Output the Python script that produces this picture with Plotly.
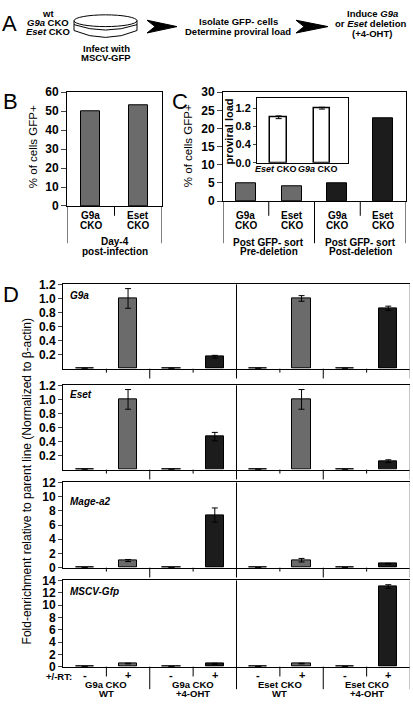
import plotly.graph_objects as go

W, H = 413, 706
FONT = "Liberation Sans, Arial, Helvetica, sans-serif"
GRAY = "#6b6b6b"
DARK = "#1c1c1c"

# ---------------- data ----------------
# Panel B
b_categories = ["G9a", "Eset"]
b_values = [50, 53]
b_group = ["Day-4", "post-infection"]
b_yticks = [0, 10, 20, 30, 40, 50, 60]

# Panel C
c_categories = ["G9a", "Eset", "G9a", "Eset"]
c_values = [5, 4, 5, 22.7]
c_colors = [GRAY, GRAY, DARK, DARK]
c_groups = [["Post GFP- sort", "Pre-deletion"], ["Post GFP- sort", "Post-deletion"]]
c_yticks = [0, 5, 10, 15, 20, 25, 30]
inset_categories = ["<i>Eset</i> CKO", "<i>G9a</i> CKO"]
inset_values = [1.0, 1.2]
inset_errors = [0.03, 0.02]
inset_yticks = [0.0, 0.4, 0.8, 1.2]

# Panel D
d_rt_labels = ["-", "+", "-", "+", "-", "+", "-", "+"]
d_groups = [["G9a CKO", "WT"], ["G9a CKO", "+4-OHT"], ["Eset CKO", "WT"], ["Eset CKO", "+4-OHT"]]
d_colors = [GRAY, GRAY, DARK, DARK, GRAY, GRAY, DARK, DARK]
d_genes = ["G9a", "Eset", "Mage-a2", "MSCV-Gfp"]
g9a_values = [0.005, 1.0, 0.005, 0.17, 0.005, 1.0, 0.005, 0.86]
g9a_errors = [0, 0.14, 0, 0.02, 0, 0.04, 0, 0.03]
eset_values = [0.005, 1.0, 0.005, 0.47, 0.005, 1.0, 0.005, 0.12]
eset_errors = [0, 0.14, 0, 0.06, 0, 0.14, 0, 0.02]
mage_values = [0.02, 1.0, 0.02, 7.4, 0.02, 1.05, 0.02, 0.55]
mage_errors = [0, 0.15, 0, 1.0, 0, 0.25, 0, 0.05]
mscv_values = [0.03, 0.5, 0.03, 0.45, 0.03, 0.5, 0.03, 13.0]
mscv_errors = [0, 0.05, 0, 0.1, 0, 0.05, 0, 0.3]
d_yticks = [
    [0.2, 0.4, 0.6, 0.8, 1.0, 1.2],
    [0.2, 0.4, 0.6, 0.8, 1.0, 1.2],
    [0, 2, 4, 6, 8, 10, 12],
    [0, 2, 4, 6, 8, 10, 12, 14],
]
d_yranges = [[0, 1.2], [0, 1.2], [0, 12], [0, 14]]


# ---------------- helpers ----------------
def PX(x):
    return x / W


def PY(y):
    return 1 - y / H


def dom_x(a, b):
    return [PX(a), PX(b)]


def dom_y(top, bottom):
    return [PY(bottom), PY(top)]


annotations = []
shapes = []


def ann(text, x, y, size=10, bold=True, xanchor="center", yanchor="middle",
        xref="paper", angle=0, color="black"):
    t = f"<b>{text}</b>" if bold else text
    annotations.append(dict(
        text=t, x=(PX(x) if xref == "paper" else x), y=PY(y), xref=xref, yref="paper",
        xanchor=xanchor, yanchor=yanchor, showarrow=False, textangle=angle,
        borderpad=0,
        font=dict(family=FONT, size=size, color=color)))


def pline(x0, y0, x1, y1, color="black", width=1):
    shapes.append(dict(type="line", xref="paper", yref="paper",
                       x0=PX(x0), y0=PY(y0), x1=PX(x1), y1=PY(y1),
                       line=dict(color=color, width=width)))


def ppath(points, close=True, fill=None, width=1):
    s = ""
    for i, p in enumerate(points):
        if p[0] == "Q":
            s += f" Q{PX(p[1])},{PY(p[2])} {PX(p[3])},{PY(p[4])}"
        else:
            s += (" M" if i == 0 else " L") + f"{PX(p[0])},{PY(p[1])}"
    if close:
        s += " Z"
    shapes.append(dict(type="path", xref="paper", yref="paper", path=s.strip(),
                       fillcolor=fill if fill else "rgba(0,0,0,0)",
                       line=dict(color="black", width=width)))


def axline(xref, yref_dom, x, y0, y1, color="black", width=1):
    shapes.append(dict(type="line", xref=xref, yref=yref_dom, x0=x, x1=x, y0=y0, y1=y1,
                       line=dict(color=color, width=width)))


fig = go.Figure()

# ---------------- Panel A ----------------
ann("A", 1, 17, size=22, bold=False, xanchor="left")
ann("wt", 48, 7, size=9.5)
ann("<i>G9a</i> CKO", 48, 16, size=9.5)
ann("<i>Eset</i> CKO", 48, 25, size=9.5)
# dish
shapes.append(dict(type="circle", xref="paper", yref="paper",
                   x0=PX(74), x1=PX(137), y0=PY(20), y1=PY(8),
                   line=dict(color="black", width=1)))
pline(74, 14, 74, 24)
pline(137, 14, 137, 24)
ppath([(74, 18), ("Q", 105.5, 29, 137, 18)], close=False)
ppath([(74, 24), ("Q", 105.5, 38, 137, 24)], close=False)
ann("Infect with", 106, 42, size=9.5)
ann("MSCV-GFP", 106, 52, size=9.5)
# arrows
ppath([(147, 13.5), (177, 20), (147, 26.5), (155, 20)], fill="black")
ppath([(296, 13.5), (328, 20), (296, 26.5), (304, 20)], fill="black")
ann("Isolate GFP- cells", 238, 15, size=9.5)
ann("Determine proviral load", 238, 24.5, size=9.5)
ann("Induce <i>G9a</i>", 372, 7, size=9.5)
ann("or <i>Eset</i> deletion", 370, 17, size=9.5)
ann("(+4-OHT)", 372, 27, size=9.5)

# ---------------- Panel B ----------------
fig.add_trace(go.Bar(x=list(range(len(b_values))), y=b_values, width=0.4,
                     marker=dict(color=GRAY, line=dict(color="black", width=1)),
                     xaxis="x", yaxis="y", showlegend=False))
ann("B", 2, 96, size=22, bold=False, xanchor="left")
ann("% of cells GFP+", 33, 143, size=11.5, bold=False, angle=-90)
for i, c in enumerate(b_categories):
    ann(c, i, 213, size=10, xref="x")
    ann("CKO", i, 222.5, size=10, xref="x")
ann(b_group[0], 0.5, 239.5, size=10, xref="x")
ann(b_group[1], 0.5, 249.5, size=10, xref="x")
B_H = 203 - 87
axline("x", "y domain", -0.5, 0, -38 / B_H)
axline("x", "y domain", 1.5, 0, -38 / B_H)
axline("x", "y domain", 0.5, 0, -10 / B_H)

# ---------------- Panel C ----------------
fig.add_trace(go.Bar(x=list(range(len(c_values))), y=c_values, width=0.44,
                     marker=dict(color=c_colors, line=dict(color="black", width=1)),
                     xaxis="x2", yaxis="y2", showlegend=False))
ann("C", 171, 96, size=22, bold=False, xanchor="left")
ann("% of cells GFP+", 188, 142, size=11.5, bold=False, angle=-90)
C_TOP, C_BOT = 87, 198
C_H = C_BOT - C_TOP
for i, c in enumerate(c_categories):
    ann(c, i, 212.5, size=10, xref="x2")
    ann("CKO", i, 222.5, size=10, xref="x2")
for g, grp in enumerate(c_groups):
    ann(grp[0], 0.5 + 2 * g, 240, size=10, xref="x2")
    ann(grp[1], 0.5 + 2 * g, 249.5, size=10, xref="x2")
for xv in [-0.5, 1.5, 3.5]:
    axline("x2", "y2 domain", xv, 0, -(241 - C_BOT) / C_H)
for xv in [0.5, 2.5]:
    axline("x2", "y2 domain", xv, 0, -(213 - C_BOT) / C_H)

# inset
fig.add_trace(go.Bar(x=list(range(len(inset_values))), y=inset_values, width=0.39,
                     marker=dict(color="white", line=dict(color="black", width=1.5)),
                     error_y=dict(type="data", array=inset_errors, color="black",
                                  thickness=1, width=3),
                     xaxis="x3", yaxis="y3", showlegend=False))
inset_label_x = [-0.07, 0.9]
for i, c in enumerate(inset_categories):
    ann(c, inset_label_x[i], 165.5, size=9, xref="x3")
ann("proviral load", 229, 127, size=11, bold=True, angle=-90)

# ---------------- Panel D ----------------
d_values = [g9a_values, eset_values, mage_values, mscv_values]
d_errors = [g9a_errors, eset_errors, mage_errors, mscv_errors]
d_doms = [(283, 369), (386, 472), (485, 572), (585, 673)]
gene_label_y = [294.5, 395, 505, 596.5]
for k in range(4):
    xa = f"x{k + 4}"
    ya = f"y{k + 4}"
    fig.add_trace(go.Bar(x=list(range(8)), y=d_values[k], width=0.42,
                         marker=dict(color=d_colors, line=dict(color="black", width=1)),
                         error_y=dict(type="data", array=d_errors[k], color="black",
                                      thickness=1, width=3),
                         xaxis=xa, yaxis=ya, showlegend=False))
    top, bot = d_doms[k]
    hh = bot - top
    ann(f"<i>{d_genes[k]}</i>", 69, gene_label_y[k], size=10, xanchor="left")
    last = (k == 3)
    small = 10 if last else 4
    big = 23 if last else 10
    axline(xa, f"{ya} domain", 3.5, -big / hh, 1)
    axline(xa, f"{ya} domain", 7.5, -big / hh, 1, color="#8a8a8a")
    for xv in [1.5, 5.5]:
        axline(xa, f"{ya} domain", xv, 0, -big / hh)
    for xv in [0.5, 2.5, 4.5, 6.5]:
        axline(xa, f"{ya} domain", xv, 0, -small / hh)

ann("D", 2, 293, size=22, bold=False, xanchor="left")
ann("Fold-enrichment relative to parent line (Normalized to β-actin)", 27, 484,
    size=12, bold=False, angle=-90)
ann("+/-RT:", 73, 683, size=9.5, xanchor="right")
for i, t in enumerate(d_rt_labels):
    ann(t, i, 682, size=11, xref="x7")
for g, grp in enumerate(d_groups):
    ann(grp[0], 0.5 + 2 * g, 691.5, size=9.5, xref="x7")
    ann(grp[1], 0.5 + 2 * g, 700.5, size=9.5, xref="x7")

# ---------------- layout ----------------
tickfont = dict(family=FONT, size=12, color="black", weight="bold")
boxed = dict(showline=True, linecolor="black", linewidth=1, mirror=True,
             showgrid=False, zeroline=False)

layout = dict(
    width=W, height=H, margin=dict(l=0, r=0, t=0, b=0),
    paper_bgcolor="white", plot_bgcolor="white",
    font=dict(family=FONT, color="black"),
    bargap=0, showlegend=False,
    xaxis=dict(domain=dom_x(67, 162), range=[-0.5, 1.5], showticklabels=False,
               ticks="", anchor="y", **boxed),
    yaxis=dict(domain=dom_y(87, 203), range=[0, 60], tickvals=b_yticks,
               ticks="outside", ticklen=5, tickfont=tickfont, anchor="x", **boxed),
    xaxis2=dict(domain=dom_x(223, 406), range=[-0.5, 3.5], showticklabels=False,
                ticks="", anchor="y2", **boxed),
    yaxis2=dict(domain=dom_y(C_TOP, C_BOT), range=[0, 30], tickvals=c_yticks,
                ticks="outside", ticklen=5, tickfont=tickfont, anchor="x2", **boxed),
    xaxis3=dict(domain=dom_x(257, 348), range=[-0.5, 1.6], showticklabels=False,
                ticks="", anchor="y3", **boxed),
    yaxis3=dict(domain=dom_y(93, 159), range=[0, 1.42], tickvals=inset_yticks,
                tickformat=".1f", ticks="outside", ticklen=3,
                tickfont=dict(family=FONT, size=11, color="black", weight="bold"),
                anchor="x3", **boxed),
    shapes=shapes, annotations=annotations,
)

for k in range(4):
    n = k + 4
    top, bot = d_doms[k]
    xa = dict(domain=dom_x(63, 410), range=[-0.5, 7.5], anchor=f"y{n}",
              showline=True, linecolor="black", linewidth=1, mirror=True,
              showgrid=False, zeroline=False, ticks="", showticklabels=False)
    ya = dict(domain=dom_y(top, bot), range=d_yranges[k], tickvals=d_yticks[k],
              tickformat=".1f" if k < 2 else "d",
              ticks="outside", ticklen=4,
              tickfont=dict(family=FONT, size=12, color="black", weight="bold"),
              anchor=f"x{n}", showline=True, linecolor="black", linewidth=1,
              mirror=False, showgrid=False, zeroline=False)
    layout[f"xaxis{n}"] = xa
    layout[f"yaxis{n}"] = ya

fig.update_layout(**layout)
fig.write_html(
    "out.html",
    config={"displayModeBar": False},
    post_script="document.body.style.margin='0';document.body.style.padding='0';"
                "document.body.style.overflow='hidden';",
)
